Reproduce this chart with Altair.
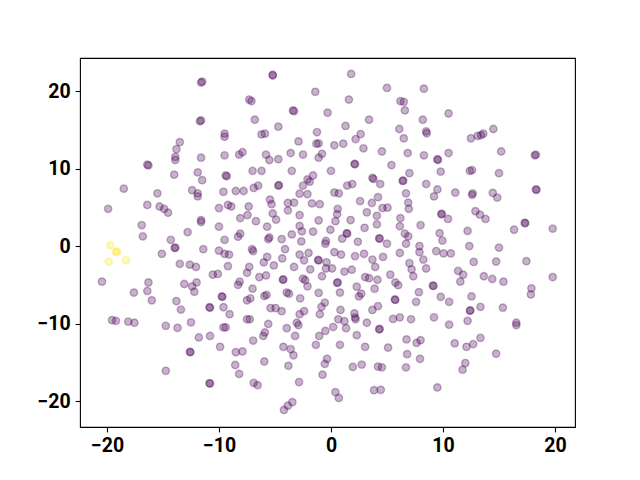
import altair as alt
import pandas as pd

# ---- data (t-SNE style embedding) ----
# upper-left block
x_a = [-11.5, -11.6, -11.7, -11.6, -13.5, -13.8, -13.9, -13.9, -11.6, -16.4, -16.3, -14.0, -11.9, -11.5]
y_a = [21.2, 21.1, 16.1, 16.2, 13.4, 12.5, 11.5, 11.1, 11.4, 10.5, 10.4, 9.2, 9.5, 8.5]

# upper-centre-left block
x_b = [-5.2, -5.2, -1.4, -7.3, -7.1, -3.4, -3.3, -0.3, -6.8, -4.7, -6.2, -5.9, -9.5, -9.5, -1.25, -2.9,
       -1.3, -1.1, -9.5, -8.2, -7.9, -5.8, -5.5, -4.7, -3.6, -2.5, -1.1, -0.8, -7.0, -6.2, -3.5, -9.4,
       -9.3, -1.6, -2.1, 0.0]
y_b = [22.1, 22.0, 19.9, 18.9, 18.7, 17.5, 17.4, 17.2, 16.3, 15.4, 14.4, 14.5, 14.5, 14.1, 14.7, 13.5,
       13.2, 13.25, 11.7, 11.8, 12.1, 11.8, 11.1, 11.2, 12.0, 11.8, 11.4, 11.9, 9.7, 9.7, 9.7, 9.1,
       9.0, 9.1, 8.6, 9.7]

# upper-centre-right block
x_c = [1.8, 5.0, 8.3, 1.6, 6.2, 6.5, 6.6, 10.5, 3.4, 8.2, 1.3, 6.1, 8.5, 8.55, 2.65, 2.2, 6.5, 0.3,
       1.1, 2.9, 4.55, 6.85, 8.3, 9.5, 9.55, 10.5, 2.1, 2.15, 5.4, 7.0, 9.8, 3.7, 3.8, 6.4, 6.45]
y_c = [22.2, 20.4, 20.3, 18.9, 18.7, 18.6, 17.5, 17.1, 16.3, 16.3, 15.5, 15.1, 14.8, 14.55, 14.45, 13.8,
       13.9, 13.0, 13.2, 12.6, 12.2, 12.0, 11.7, 11.2, 11.1, 12.0, 10.6, 10.55, 10.45, 9.4, 9.6, 8.8,
       8.65, 8.4, 8.45]

# upper-right block
x_d = [12.5, 13.1, 13.4, 13.6, 14.5, 15.2, 18.2, 18.3, 12.4, 12.6, 15.0]
y_d = [13.9, 14.2, 14.3, 14.5, 15.1, 12.2, 11.7, 11.8, 9.7, 9.8, 9.4]

# middle-left block
x_e = [-18.5, -15.5, -12.4, -11.9, -11.9, -19.9, -16.4, -15.3, -14.9, -14.55, -16.9, -16.8, -11.6,
       -11.6, -12.8, -14.3, -13.9, -13.95, -15.1, -11.4, -13.5, -12.6, -12.05, -20.45, -16.3, -16.4,
       -17.6, -13.1, -12.4, -12.0, -12.2, -16.0, -13.8]
y_e = [7.4, 6.8, 7.2, 6.8, 6.4, 4.8, 5.3, 5.1, 4.8, 4.3, 2.7, 1.25, 3.35, 3.1, 1.8, 0.8, -0.2, -0.25,
       -1.0, -0.4, -2.3, -2.4, -2.7, -4.6, -4.7, -5.8, -6.0, -4.9, -5.2, -4.7, -5.9, -7.0, -7.1]

# middle-centre-left block
x_f = [-9.6, -8.5, -7.8, -6.9, -6.5, -4.7, -4.65, -2.5, -1.9, -2.8, -2.1,
       -10.0, -9.2, -8.9, -7.35, -5.45, -5.3, -5.2, -3.85, -3.3, -3.85, -1.7, -1.0,
       -8.1, -7.45, -6.7, -4.9, -2.8, -1.1,
       -10.0, -5.7, -2.8, -2.6, -1.6, -0.05,
       -8.3, -8.1, -9.5, -5.6, -5.5, -4.4, -3.5, -2.65, -0.5, -0.45,
       -10.0, -9.5, -9.1, -7.05, -6.95, -4.1, -2.8, -2.0, -2.4,
       -5.7, -6.0, -4.35, -1.1, -1.15, -0.4, -0.45,
       -9.2, -7.3, -7.5, -5.1, -3.3, -1.85,
       -10.55, -10.1, -6.4, -5.8, -4.3, -4.25, -2.5, -2.3, -0.8,
       -8.15, -8.3, -2.1, -7.0, -5.75, -5.95, -3.95, -3.75, -1.1,
       -9.7, -9.75, -7.5, -7.2, -2.75, -0.55]
y_f = [7.0, 7.1, 7.1, 7.5, 7.8, 7.8, 7.85, 7.8, 8.3, 6.75, 6.7,
       4.9, 5.3, 5.1, 5.1, 6.0, 5.4, 4.2, 5.55, 5.6, 4.6, 5.5, 5.4,
       3.6, 4.0, 3.2, 3.4, 4.0, 3.3,
       2.5, 2.5, 2.6, 1.9, 1.85, 2.1,
       1.2, 1.6, 0.8, 0.9, 1.1, 0.9, 1.5, 0.6, 0.3, 0.65,
       -0.6, -1.0, -1.1, -0.4, -0.65, -0.4, -1.1, -0.9, -1.85,
       -1.4, -2.1, -1.6, -1.85, -1.8, -2.1, -2.9,
       -2.6, -2.7, -3.45, -2.5, -2.7, -3.0,
       -3.7, -3.6, -4.0, -3.8, -4.35, -4.3, -4.2, -4.4, -3.9,
       -4.6, -5.0, -5.2, -5.5, -6.3, -6.45, -6.0, -6.15, -6.05,
       -6.55, -6.5, -7.0, -6.75, -6.75, -7.3]

# middle-centre-right block
x_g = [0.3, 0.7, 1.45, 1.9, 4.4, 8.5, 9.5, 9.2, 6.7, 11.1,
       2.6, 3.65, 4.2, 4.6, 5.05, 6.9, 6.95, 0.6, 0.55, 3.2, 4.1, 4.1, 0.4, 1.75,
       6.2, 6.15, 8.0, 9.85, 9.9, 10.45, 3.0, 1.4, 1.45, 1.0, 4.3, 4.35, 5.0, 2.4,
       6.6, 6.9, 6.7, 9.7, 9.95, 7.9, 7.9, 8.25, 0.3, 0.9, 2.15, 2.95, 6.15, 9.4,
       10.05, 10.7, 3.7, 3.95, 4.65, 7.0, 7.2, 7.35, 0.1, 8.5, 1.2, 1.85, 5.3,
       3.05, 3.4, 4.15, 0.55, 0.6, 0.8, 2.3, 2.7, 2.5, 3.9, 5.75, 6.0, 9.1, 9.15,
       7.85, 9.8, 5.75, 5.7, 7.6, 10.55]
y_g = [6.9, 6.8, 7.8, 8.0, 8.0, 8.0, 7.3, 6.4, 6.8, 6.9,
       5.8, 5.55, 6.3, 4.9, 4.95, 5.6, 4.8, 4.8, 4.1, 4.35, 3.9, 2.8, 3.2, 3.35,
       3.6, 2.55, 2.7, 4.1, 4.15, 3.5, 2.35, 1.65, 1.6, 0.95, 1.0, 0.95, 0.3, 0.55,
       1.6, 1.25, 0.3, 1.65, 0.7, 0.0, -0.8, -1.75, -0.8, -1.1, -1.3, -1.0, -0.9, -0.65,
       -0.95, -0.95, -1.75, -2.7, -1.4, -2.2, -3.0, -3.9, -2.9, -2.9, -3.3, -3.05, -3.7,
       -4.0, -4.15, -4.35, -4.75, -4.7, -6.0, -5.25, -6.15, -6.5, -5.5, -4.7, -5.05, -5.1, -5.15,
       -5.95, -6.55, -6.95, -6.9, -7.2, -7.2]

# middle-right block
x_h = [12.6, 12.65, 14.45, 14.85, 18.3, 18.35, 12.9, 13.3, 13.8, 17.3, 17.35, 16.35, 19.8, 12.2,
       12.35, 15.0, 12.75, 14.75, 17.45, 11.35, 11.8, 11.55, 13.65, 14.4, 15.4, 19.8, 17.9, 17.85,
       12.55]
y_h = [6.6, 6.8, 6.85, 6.25, 7.3, 7.25, 4.5, 4.05, 3.5, 3.0, 2.95, 2.1, 2.25, 1.95,
       0.0, -0.2, -2.05, -2.0, -1.95, -3.2, -3.7, -4.6, -3.9, -4.25, -4.6, -4.0, -5.45, -6.25,
       -6.5]

# lower-left block
x_i = [-13.4, -19.55, -19.2, -18.1, -17.55, -14.75, -13.7, -12.5, -11.8, -12.55, -12.6, -14.75,
       -10.85, -10.8]
y_i = [-8.2, -9.55, -9.65, -9.75, -9.9, -10.3, -10.55, -9.85, -11.8, -13.7, -13.65, -16.1,
       -17.7, -17.75]

# lower-centre-left block
x_j = [-10.85, -10.8, -9.6, -9.05, -5.4, -4.95, -4.4, -2.8, -2.4, -3.05, -2.9, -0.85, -1.0,
       -7.5, -7.25, -9.6, -9.4, -5.6, -5.9, -6.05, -3.95, -10.8, -3.2, -1.05, -0.5,
       -6.95, -9.9, -8.5, -7.9, -4.25, -3.6, -3.35, -1.35, -5.95, -3.8, -8.55, -8.2,
       -0.35, -0.55, -0.75, -6.9, -6.55, -2.85, -3.45, -3.85, -4.2]
y_j = [-7.9, -7.95, -7.9, -8.8, -8.0, -8.0, -8.4, -8.8, -8.4, -9.9, -10.2, -7.85, -8.8,
       -9.45, -9.45, -10.5, -10.5, -10.05, -11.15, -11.6, -10.6, -11.6, -11.6, -11.6, -10.95,
       -12.2, -13.0, -13.7, -13.6, -13.0, -13.3, -14.1, -12.75, -14.9, -15.45, -15.35, -16.5,
       -14.55, -15.2, -16.6, -17.65, -17.95, -17.55, -20.15, -20.6, -21.15]

# lower-centre-right block
x_k = [0.85, 0.65, 1.2, 1.35, 0.2, 2.1, 2.15, 2.2, 3.7, 4.2, 3.2, 4.3, 4.35, 5.55, 6.15, 7.15,
       9.2, 10.55, 2.3, 0.8, 3.05, 5.1, 6.75, 7.65, 8.0, 6.8, 7.95, 1.95, 2.75, 4.2, 4.55, 6.7,
       9.5, 0.4, 0.7, 3.85, 4.45, 11.05]
y_k = [-8.25, -9.45, -9.7, -10.6, -10.45, -8.7, -9.2, -9.45, -8.25, -7.75, -9.9, -10.75, -10.7,
       -9.4, -9.2, -9.45, -9.2, -10.15, -11.5, -12.75, -13.0, -13.1, -12.05, -12.5, -12.15, -13.95,
       -14.55, -15.6, -15.3, -15.55, -15.65, -15.65, -18.25, -18.85, -19.6, -18.6, -18.55, -12.55]

# lower-right block
x_l = [12.4, 12.45, 13.35, 15.35, 12.2, 16.55, 16.55, 12.1, 12.7, 13.35, 14.75, 12.0, 11.75]
y_l = [-8.35, -8.3, -7.85, -7.95, -9.65, -9.9, -10.2, -13.0, -12.65, -11.85, -13.9, -15.1, -15.95]

# the small second cluster (yellow)
x_yellow = [-19.7, -19.1, -19.2, -19.85, -18.3]
y_yellow = [0.1, -0.7, -0.8, -2.0, -1.85]

# ---- assemble ----
purple_x = x_a + x_b + x_c + x_d + x_e + x_f + x_g + x_h + x_i + x_j + x_k + x_l
purple_y = y_a + y_b + y_c + y_d + y_e + y_f + y_g + y_h + y_i + y_j + y_k + y_l
for xx, yy in [(x_a, y_a), (x_b, y_b), (x_c, y_c), (x_d, y_d), (x_e, y_e), (x_f, y_f),
               (x_g, y_g), (x_h, y_h), (x_i, y_i), (x_j, y_j), (x_k, y_k), (x_l, y_l),
               (x_yellow, y_yellow)]:
    assert len(xx) == len(yy), (len(xx), len(yy))

df = pd.DataFrame({
    "x": purple_x + x_yellow,
    "y": purple_y + y_yellow,
    "cluster": [0] * len(purple_x) + [1] * len(x_yellow),
})

cscale = alt.Scale(domain=[0, 1], range=["#440154", "#fde725"])

axis_common = dict(
    title=None, grid=False, domain=False, format="d",
    ticks=True, tickSize=4.9, tickWidth=1.1, tickColor="black",
    labelFont="Roboto", labelFontWeight="bold", labelFontSize=19.5,
    labelColor="black", labelPadding=4.9,
)

chart = alt.Chart(df).mark_circle(
    size=54.5, fillOpacity=0.3, strokeOpacity=0.3, strokeWidth=1.39
).encode(
    x=alt.X("x:Q", scale=alt.Scale(domain=[-22.41, 21.79], nice=False, zero=False),
            axis=alt.Axis(values=[-20, -10, 0, 10, 20], **axis_common)),
    y=alt.Y("y:Q", scale=alt.Scale(domain=[-23.35, 24.26], nice=False, zero=False),
            axis=alt.Axis(values=[-20, -10, 0, 10, 20], **axis_common)),
    color=alt.Color("cluster:N", scale=cscale, legend=None),
    stroke=alt.Stroke("cluster:N", scale=cscale, legend=None),
    order=alt.Order("cluster:Q"),
).properties(
    width=495, height=369,
    autosize=alt.AutoSizeParams(type="none"),
    padding={"left": 72, "top": 50, "right": 57, "bottom": 45},
).configure(
    background="white",
    view=alt.ViewConfig(stroke="black", strokeWidth=1.1),
)

chart.save("out.html", embed_options={"renderer": "svg", "actions": False})
